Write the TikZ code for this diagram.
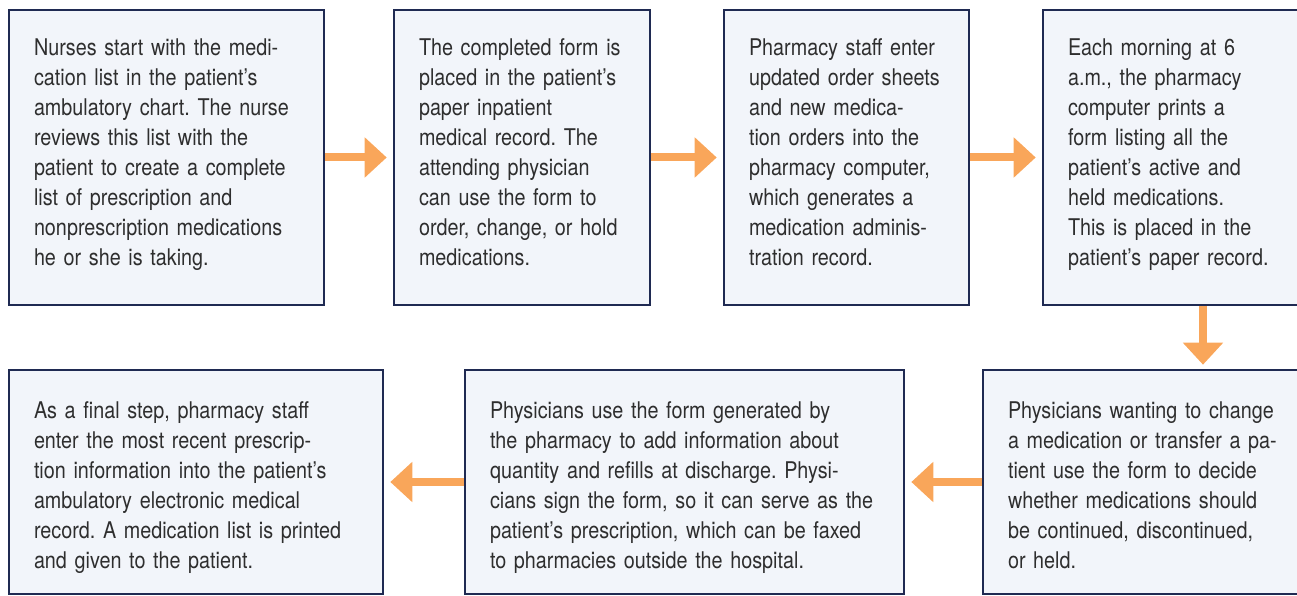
\documentclass[tikz,border=0pt]{standalone}
\usepackage{fontspec}
\setmainfont{TeX Gyre Heros}[FakeStretch=0.86]
\frenchspacing
\usepackage{tikz}
\usetikzlibrary{arrows.meta}
\definecolor{boxline}{HTML}{1F2A52}
\definecolor{boxfill}{HTML}{F2F5FA}
\definecolor{flowc}{HTML}{F9A65A}
\definecolor{textc}{HTML}{2E2E2E}
\tikzstyle{stepbox} = [draw=boxline, fill=boxfill, line width=1.3pt,
    inner xsep=12.5pt, align=left, text=textc,
    font=\fontsize{11.5pt}{15pt}\selectfont]
\tikzstyle{toprow} = [stepbox, minimum height=147.5pt, text depth=110.5pt]
\tikzstyle{lowrow} = [stepbox, minimum height=112pt, text height=11.6pt, text depth=75pt]
\tikzstyle{flow} = [draw=flowc, line width=4pt, ->]
\tikzset{>={Triangle[width=19.5pt,length=11pt]}}

\begin{document}
\begin{tikzpicture}[x=1pt,y=1pt]
\useasboundingbox (0,0) rectangle (648.5,297.5);
    %top row
    \node[toprow, minimum width=157.5pt, text width=132.5pt] (nurse) at (83.25,218.75)
    {Nurses start with the medi-\\cation list in the patient’s\\ambulatory chart. The nurse\\reviews this list with the\\patient to create a complete\\list of prescription and\\nonprescription medications\\he or she is taking.};
    \node[toprow, minimum width=128pt, text width=103pt] (form) at (261,218.75)
    {The completed form is\\placed in the patient’s\\paper inpatient\\medical record. The\\attending physician\\can use the form to\\order, change, or hold\\medications.};
    \node[toprow, minimum width=122.5pt, text width=97.5pt] (staff) at (423.25,218.75)
    {Pharmacy staff enter\\updated order sheets\\and new medica-\\tion orders into the\\pharmacy computer,\\which generates a\\medication adminis-\\tration record.};
    \node[toprow, minimum width=133.5pt, text width=108.5pt] (print) at (588.25,218.75)
    {Each morning at 6\\a.m., the pharmacy\\computer prints a\\form listing all the\\patient’s active and\\held medications.\\This is placed in the\\patient’s paper record.};
    %bottom row
    \node[lowrow, minimum width=163.5pt, text width=138.5pt] (change) at (573.25,56.5)
    {Physicians wanting to change\\a medication or transfer a pa-\\tient use the form to decide\\whether medications should\\be continued, discontinued,\\or held.};
    \node[lowrow, minimum width=219.5pt, text width=194.5pt] (discharge) at (342.25,56.5)
    {Physicians use the form generated by\\the pharmacy to add information about\\quantity and refills at discharge. Physi-\\cians sign the form, so it can serve as the\\patient’s prescription, which can be faxed\\to pharmacies outside the hospital.};
    \node[lowrow, minimum width=187pt, text width=162pt] (final) at (98,56.5)
    {As a final step, pharmacy staff\\enter the most recent prescrip-\\tion information into the patient’s\\ambulatory electronic medical\\record. A medication list is printed\\and given to the patient.};
    %arrows
    \draw[flow, shorten >=3pt] (nurse.east) to (form.west);
    \draw[flow, shorten >=3pt] (form.east) to (staff.west);
    \draw[flow, shorten >=3pt] (staff.east) to (print.west);
    \draw[flow, shorten >=2pt] ([xshift=13.25pt]print.south) to ([xshift=28.25pt]change.north);
    \draw[flow, shorten >=3pt] (change.west) to (discharge.east);
    \draw[flow, shorten >=3pt] (discharge.west) to (final.east);
\end{tikzpicture}
\end{document}
